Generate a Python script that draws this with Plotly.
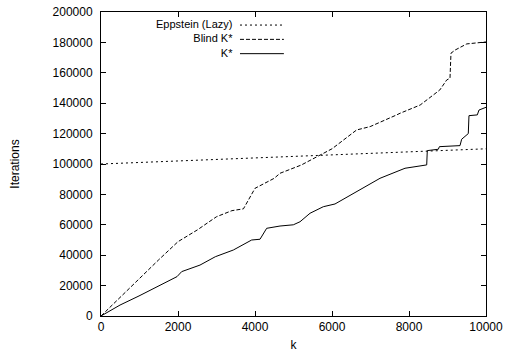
import plotly.graph_objects as go

# Eppstein (Lazy)
epp_k = [0, 5000, 10000]
epp_v = [100000, 105000, 110000]

# Blind K*
blind_k = [0, 500, 1000, 1500, 2000, 2500, 3000, 3400, 3700, 4000, 4500, 4650, 5200,
           5690, 6000, 6640, 6990, 7680, 7770, 8290, 8800, 8980, 9065, 9090, 9200, 9500, 10000]
blind_v = [0, 12500, 25000, 37000, 48900, 56600, 65300, 69300, 70500, 84000, 90600, 93900, 99300,
           105900, 110000, 122400, 124600, 132300, 133400, 138800, 148700, 155300, 156400, 172900,
           175000, 179000, 180300]

# K*
kstar_k = [0, 494, 987, 1974, 2096, 2571, 2969, 3437, 3913, 4130, 4303, 4650, 4995, 5169,
           5429, 5774, 6078, 6814, 7247, 7896, 8460, 8475, 8761, 8790, 9325, 9368, 9498,
           9540, 9558, 9774, 9818, 10000]
kstar_v = [0, 7200, 13200, 25900, 29200, 33500, 39000, 43400, 50000, 50500, 57700, 59200, 60000,
           62000, 67600, 71900, 73700, 84000, 90600, 97200, 99400, 108800, 109700, 111400,
           112100, 116300, 119100, 120000, 131800, 132300, 135500, 137300]

x_ticks = [0, 2000, 4000, 6000, 8000, 10000]
y_ticks = [0, 20000, 40000, 60000, 80000, 100000, 120000, 140000, 160000, 180000, 200000]

names = ["Eppstein (Lazy)", "Blind K*", "K*"]
dashes = ["2px,3px", "4px,2px", "solid"]

FONT = "Liberation Sans, Arial, Helvetica, sans-serif"
LEG_SIZE = 11

fig = go.Figure()
for (xs, ys), name, d in zip([(epp_k, epp_v), (blind_k, blind_v), (kstar_k, kstar_v)], names, dashes):
    fig.add_trace(go.Scatter(x=xs, y=ys, mode="lines", name=name,
                             line=dict(color="black", width=1, dash=d), showlegend=False))

# gnuplot-style key: right-aligned labels (one text block), sample lines to the right
line_h = LEG_SIZE * 1.3 / 304.0  # line spacing in paper units (plot height 304 px)
mid_y = 0.913
fig.add_annotation(xref="paper", yref="paper", x=0.347, y=mid_y, text="<br>".join(names),
                   showarrow=False, xanchor="right", yanchor="middle", align="right",
                   font=dict(family=FONT, size=LEG_SIZE, color="black"))
for i, d in enumerate(dashes):
    yy = mid_y + line_h * (1 - i) - 0.003
    fig.add_shape(type="line", xref="paper", yref="paper", x0=0.361, x1=0.475, y0=yy, y1=yy,
                  line=dict(color="black", width=1, dash=d))

axis_common = dict(showline=True, linecolor="black", linewidth=1, mirror="allticks",
                   ticks="inside", ticklen=5, tickcolor="black", tickwidth=1,
                   showgrid=False, zeroline=False, automargin=False,
                   ticklabeloverflow="allow",
                   tickfont=dict(family=FONT, size=12, color="black"))

fig.update_xaxes(range=[0, 10000], tickvals=x_ticks, ticktext=[str(v) for v in x_ticks],
                 title=dict(text="k", font=dict(family=FONT, size=12, color="black"), standoff=7),
                 **axis_common)
fig.update_yaxes(range=[0, 200000], tickvals=y_ticks, ticktext=[str(v) for v in y_ticks],
                 ticklabelstandoff=5,
                 title=dict(text="Iterations", font=dict(family=FONT, size=12, color="black"), standoff=30),
                 **axis_common)

fig.update_layout(width=511, height=356, margin=dict(l=101, r=25, t=12, b=40),
                  paper_bgcolor="white", plot_bgcolor="white",
                  font=dict(family=FONT, size=12, color="black"))

# remove the default 8px page margin so the figure fills the window exactly
fig.write_html("out.html", config={"displayModeBar": False},
               post_script="document.body.style.margin='0';")
